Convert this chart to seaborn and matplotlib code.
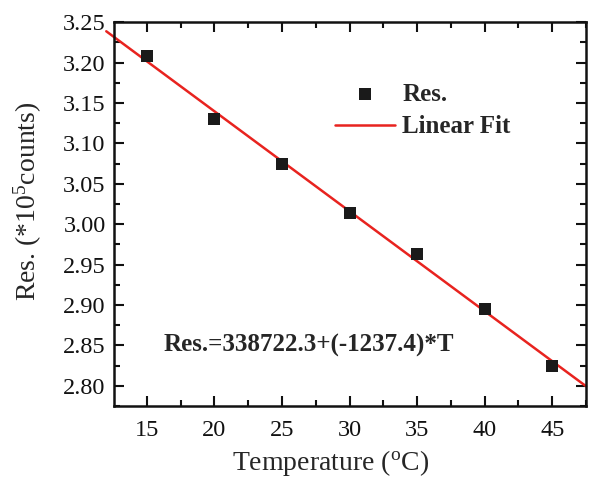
import matplotlib
matplotlib.use("Agg")
import matplotlib.pyplot as plt
import seaborn as sns
import numpy as np
import pandas as pd
from matplotlib.ticker import MultipleLocator, FormatStrFormatter

temperature = [15, 20, 25, 30, 35, 40, 45]
res_values = [3.208, 3.130, 3.075, 3.014, 2.963, 2.895, 2.824]
fit_intercept = 338722.3
fit_slope = -1237.4
fit_x = [12.0, 47.5]

sns.set_style("ticks")
plt.rcParams['font.family'] = ['Liberation Serif', 'DejaVu Serif']
plt.rcParams['mathtext.fontset'] = 'custom'
plt.rcParams['mathtext.rm'] = 'Liberation Serif'
plt.rcParams['mathtext.it'] = 'Liberation Serif:italic'
plt.rcParams['mathtext.bf'] = 'Liberation Serif:bold'

fig = plt.figure(figsize=(5.89, 4.82), dpi=100)
ax = fig.add_axes([0.1935, 0.1577, 0.8015, 0.7963])

df = pd.DataFrame({"T": temperature, "Res": res_values})
fit_df = pd.DataFrame({"T": fit_x,
                       "Fit": [(fit_intercept + fit_slope * t) / 1e5 for t in fit_x]})

sns.lineplot(data=fit_df, x="T", y="Fit", ax=ax, color="#e8231f", lw=1.8,
             label="Linear Fit", zorder=2)
sns.scatterplot(data=df, x="T", y="Res", ax=ax, marker="s", s=75, color="#1a1a1a",
                edgecolor="#1a1a1a", linewidth=0, label="Res.", zorder=3)
for l in ax.lines:
    l.set_clip_on(False)

ax.set_xlim(12.57, 47.5)
ax.set_ylim(2.775, 3.25)
ax.xaxis.set_major_locator(MultipleLocator(5))
ax.xaxis.set_minor_locator(MultipleLocator(2.5))
ax.yaxis.set_major_locator(MultipleLocator(0.05))
ax.yaxis.set_minor_locator(MultipleLocator(0.025))
ax.yaxis.set_major_formatter(FormatStrFormatter('%.2f'))
ax.tick_params(which='both', direction='in', top=True, right=True, width=1.5,
               labelsize=17.5, pad=6, colors='#111111')
ax.tick_params(axis='x', which='both', pad=10)
ax.tick_params(which='major', length=7)
ax.tick_params(which='minor', length=4)
for lab in ax.get_xticklabels() + ax.get_yticklabels():
    lab.set_fontfamily('Liberation Serif')
for s in ax.spines.values():
    s.set_linewidth(1.8)
    s.set_visible(True)
    s.set_color('#111111')

ax.set_xlabel("Temperature ($^{\\mathrm{o}}$C)", fontsize=20)
ax.set_ylabel("Res. (*10$^{5}$counts)", fontsize=20)
ax.xaxis.set_label_coords((331 - 114) / 472, -(448 - 406) / 384)
ax.yaxis.set_label_coords(-(114 - 44) / 472, (406 - 201) / 384)

handles, labels = ax.get_legend_handles_labels()
order = [labels.index("Res."), labels.index("Linear Fit")]
leg = ax.legend([handles[i] for i in order], [labels[i] for i in order],
                loc='upper left', bbox_to_anchor=(0.468, 0.842), frameon=False,
                prop={'weight': 'bold', 'size': 18}, handlelength=2.4,
                handletextpad=0.3, labelspacing=0.38, borderpad=0,
                borderaxespad=0)

ax.text(0.104, 0.159, "Res.=338722.3+(-1237.4)*T", transform=ax.transAxes,
        fontsize=18, fontweight='bold', va='center', ha='left')

fig.savefig("out.png", dpi=100)
